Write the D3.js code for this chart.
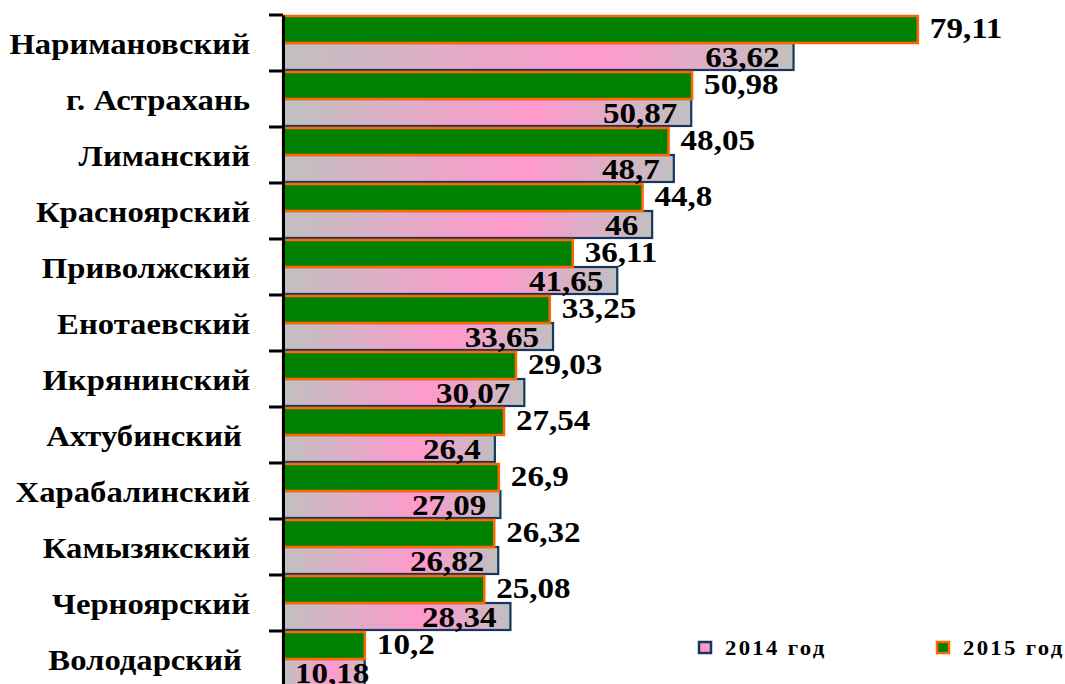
<!DOCTYPE html>
<html>
<head>
<meta charset="utf-8">
<script src="https://cdn.jsdelivr.net/npm/d3@7"></script>
<style>
  body { margin: 0; background: #fff; }
  svg { display: block; }
  text { font-family: "Liberation Serif", "Times New Roman", serif; font-weight: bold; fill: #000; white-space: pre; }
</style>
</head>
<body>
<svg id="chart" width="1065" height="684"></svg>
<script>
// Districts, top to bottom
const districts = ["Наримановский", "г. Астрахань", "Лиманский", "Красноярский", "Приволжский",
  "Енотаевский", "Икрянинский", "Ахтубинский ", "Харабалинский", "Камызякский", "Черноярский", "Володарский "];
const values2015 = [79.11, 50.98, 48.05, 44.8, 36.11, 33.25, 29.03, 27.54, 26.9, 26.32, 25.08, 10.2];
const values2014 = [63.62, 50.87, 48.7, 46, 41.65, 33.65, 30.07, 26.4, 27.09, 26.82, 28.34, 10.18];
const seriesNames = ["2014 год", "2015 год"];

const svg = d3.select("#chart");
const fmt = v => String(v).replace(".", ",");

const x = d3.scaleLinear().domain([0, 80]).range([283, 925]);
const y = d3.scaleBand().domain(districts).range([15, 687]).paddingInner(0).paddingOuter(0);
const sub = d3.scaleBand().domain(["2015", "2014"]).range([1, y.bandwidth() - 1]);

// grey → pink → grey fill for the 2014 bars
const defs = svg.append("defs");
const grad = defs.append("linearGradient").attr("id", "pinkGrey")
  .attr("x1", "0").attr("x2", "1").attr("y1", "0").attr("y2", "0");
grad.append("stop").attr("offset", "0").attr("stop-color", "#c0c0c0");
grad.append("stop").attr("offset", "0.62").attr("stop-color", "#ff99cc");
grad.append("stop").attr("offset", "1").attr("stop-color", "#c0c0c0");

const rows = districts.map((d, i) => ({ name: d, v15: values2015[i], v14: values2014[i] }));

// 2014 bars
svg.append("g").selectAll("rect").data(rows).join("rect")
  .attr("x", x(0))
  .attr("y", d => y(d.name) + sub("2014"))
  .attr("width", d => x(d.v14) - x(0))
  .attr("height", sub.bandwidth())
  .attr("fill", "url(#pinkGrey)")
  .attr("stroke", "#17375e").attr("stroke-width", 2.2);

// 2015 bars
svg.append("g").selectAll("rect").data(rows).join("rect")
  .attr("x", x(0))
  .attr("y", d => y(d.name) + sub("2015"))
  .attr("width", d => x(d.v15) - x(0))
  .attr("height", sub.bandwidth())
  .attr("fill", "#008000")
  .attr("stroke", "#ff6600").attr("stroke-width", 2.5);

// Axis: ticks sit on the band boundaries
const axis = svg.append("g").attr("transform", `translate(${x(0)},0)`)
  .call(d3.axisLeft(y).tickSize(14).tickSizeOuter(0).tickFormat(""));
axis.selectAll(".tick").attr("transform", d => `translate(0,${y(d)})`);
axis.selectAll(".tick line").attr("stroke", "#000").attr("stroke-width", 3);
axis.select(".domain").attr("stroke", "#000").attr("stroke-width", 3);

const SX = 1.14;

// Category labels
svg.append("g").selectAll("text").data(rows).join("text")
  .attr("transform", d => `translate(250,${y(d.name) + y.bandwidth() / 2}) scale(1.09,1)`)
  .attr("text-anchor", "end").attr("dy", "0.35em")
  .style("font-size", "30px")
  .text(d => d.name);

// 2015 value labels, right of the bar
svg.append("g").selectAll("text").data(rows).join("text")
  .attr("transform", d => `translate(${x(d.v15) + 12},${y(d.name) + sub("2015") + sub.bandwidth() / 2 - 2}) scale(${SX},1)`)
  .attr("dy", "0.35em")
  .style("font-size", "29px")
  .text(d => fmt(d.v15));

// 2014 value labels, inside the bar end
const lab14 = svg.append("g").selectAll("text").data(rows).join("text")
  .attr("text-anchor", "end").attr("dy", "0.35em")
  .style("font-size", "29px")
  .text(d => fmt(d.v14));
lab14.each(function (d) {
  const w = this.getComputedTextLength() * SX;
  const xEnd = Math.max(x(d.v14) - 14, x(0) + 12 + w);
  d3.select(this).attr("transform",
    `translate(${xEnd},${y(d.name) + sub("2014") + sub.bandwidth() / 2}) scale(${SX},1)`);
});

// Legend
const legend = [
  { name: seriesNames[0], fill: "#ff99cc", stroke: "#17375e", x: 698 },
  { name: seriesNames[1], fill: "#008000", stroke: "#ff6600", x: 936 }
];
const lg = svg.append("g").selectAll("g").data(legend).join("g")
  .attr("transform", d => `translate(${d.x},641)`);
lg.append("rect").attr("x", 1).attr("y", 1).attr("width", 12).attr("height", 11)
  .attr("fill", d => d.fill).attr("stroke", d => d.stroke).attr("stroke-width", 2.5);
lg.append("text")
  .attr("transform", `translate(27,7) scale(${SX},1)`)
  .attr("dy", "0.35em")
  .style("font-size", "20px").style("letter-spacing", "2px")
  .text(d => d.name);
</script>
</body>
</html>
